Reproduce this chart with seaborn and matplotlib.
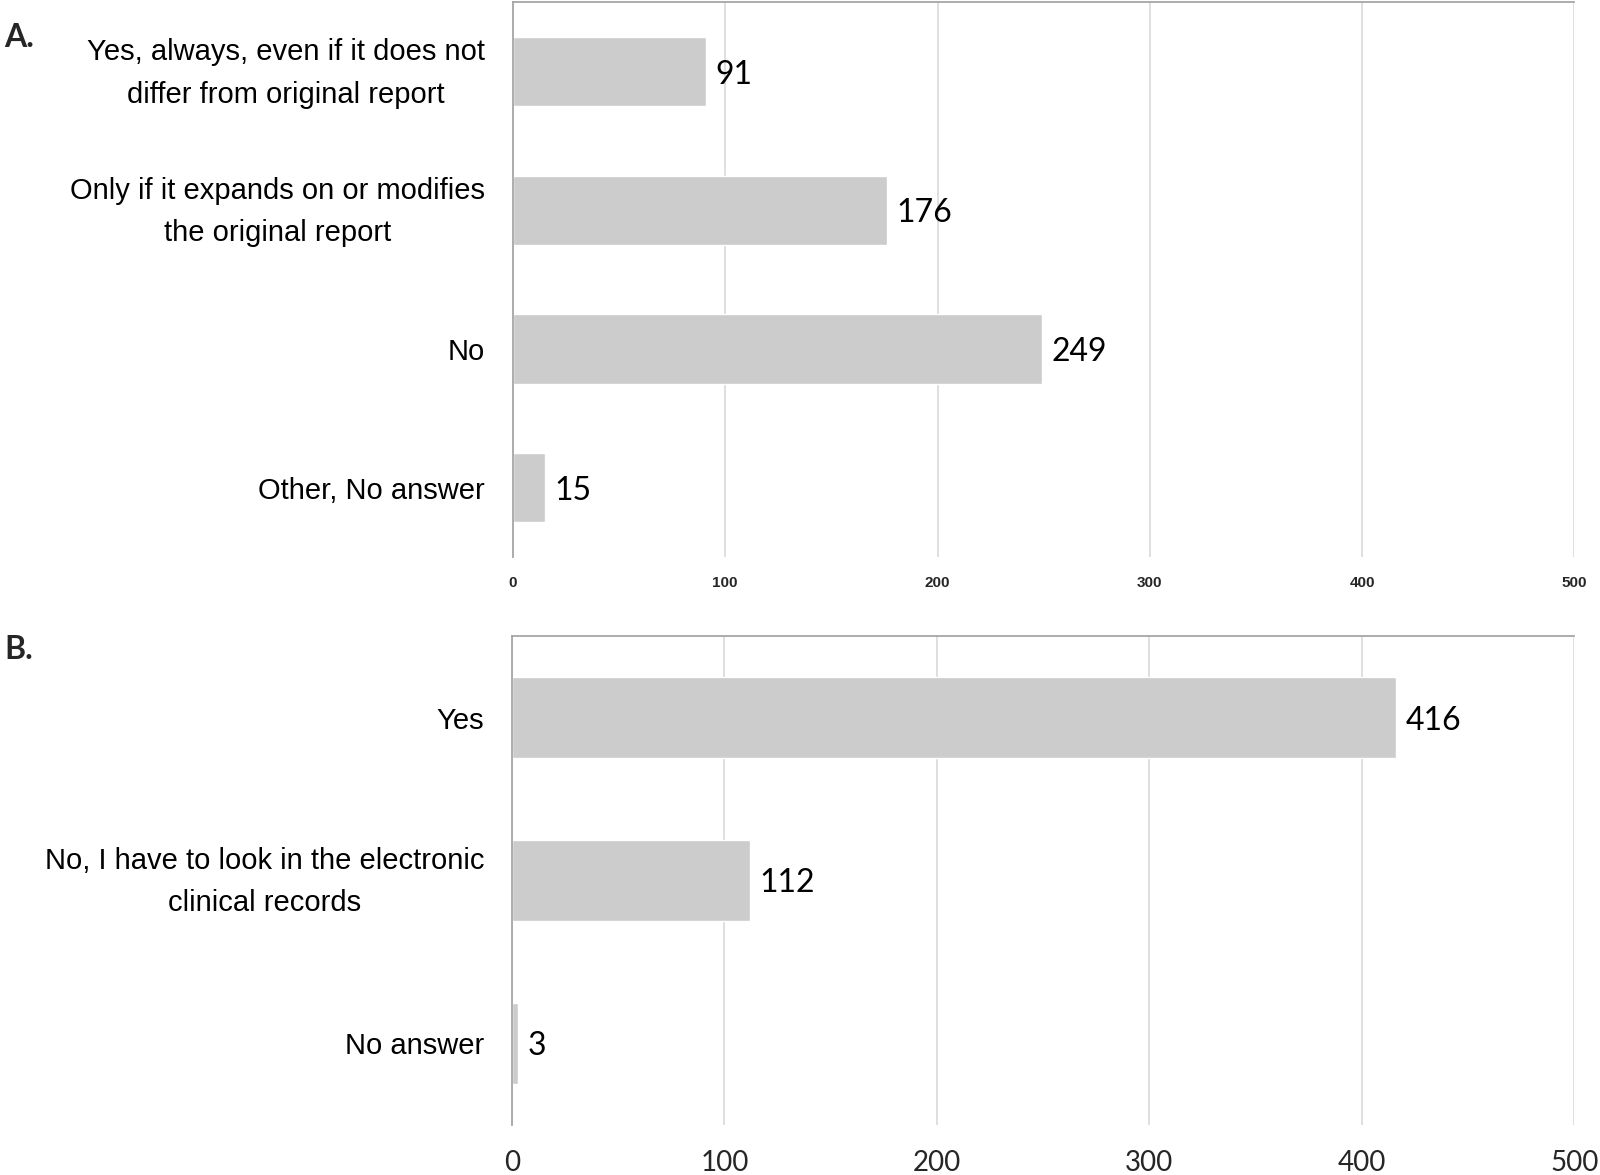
import matplotlib.pyplot as plt
import matplotlib.transforms as mtransforms
import seaborn as sns

# panel A
cats_a = ['Yes, always, even if it does not\ndiffer from original report',
          'Only if it expands on or modifies\nthe original report',
          'No',
          'Other, No answer']
vals_a = [91, 176, 249, 15]

# panel B
cats_b = ['Yes',
          'No, I have to look in the electronic\nclinical records',
          'No answer']
vals_b = [416, 112, 3]

xticks = [0, 100, 200, 300, 400, 500]

sns.set_theme(style='white')
plt.rcParams['font.family'] = ['Liberation Sans', 'DejaVu Sans']

bar_color = '#cccccc'
grid_color = '#d9d9d9'
spine_color = '#a6a6a6'

fig = plt.figure(figsize=(16, 11.75), dpi=100)
ax_a = fig.add_axes([0.3206, 0.526, 0.6634, 0.472])
ax_b = fig.add_axes([0.3200, 0.0426, 0.6640, 0.4161])

# two-line labels sit a bit higher than matplotlib centres them
lift = mtransforms.ScaledTranslation(0, 6 / 72, fig.dpi_scale_trans)


def style_panel(ax, cats, vals):
    sns.barplot(x=vals, y=cats, ax=ax, color=bar_color, saturation=1,
                width=0.5, orient='h')
    ax.set_xlim(0, 500)
    ax.set_ylim(len(cats) - 0.5, -0.5)
    ax.set_xticks(xticks)
    ax.xaxis.grid(True, color=grid_color, linewidth=1.2)
    ax.set_axisbelow(True)
    for side in ['right', 'bottom']:
        ax.spines[side].set_visible(False)
    for side in ['top', 'left']:
        ax.spines[side].set_color(spine_color)
        ax.spines[side].set_linewidth(1.3)
    ax.tick_params(axis='both', length=0)
    ax.tick_params(axis='y', pad=20)
    for lab in ax.get_yticklabels():
        lab.set_fontsize(21)
        lab.set_multialignment('center')
        lab.set_linespacing(1.65)
        lab.set_color('black')
        if '\n' in lab.get_text():
            lab.set_transform(lab.get_transform() + lift)
    texts = ax.bar_label(ax.containers[0], padding=7, fontsize=23,
                         family=['Lato', 'DejaVu Sans'], color='black')
    for t in texts:
        t.set_va('center_baseline')
    ax.set_xlabel('')
    ax.set_ylabel('')


style_panel(ax_a, cats_a, vals_a)
style_panel(ax_b, cats_b, vals_b)

ax_a.tick_params(axis='x', pad=14)
for lab in ax_a.get_xticklabels():
    lab.set_fontsize(11)
    lab.set_fontweight('bold')

ax_b.tick_params(axis='x', pad=18)
for lab in ax_b.get_xticklabels():
    lab.set_fontsize(20)
    lab.set_family(['Lato', 'DejaVu Sans'])

fig.text(0.0025, 0.968, 'A.', fontsize=23, fontweight='bold',
         family=['Lato', 'DejaVu Sans'], va='center')
fig.text(0.0025, 0.447, 'B.', fontsize=23, fontweight='bold',
         family=['Lato', 'DejaVu Sans'], va='center')

fig.savefig('out.png', dpi=100, facecolor='white')
